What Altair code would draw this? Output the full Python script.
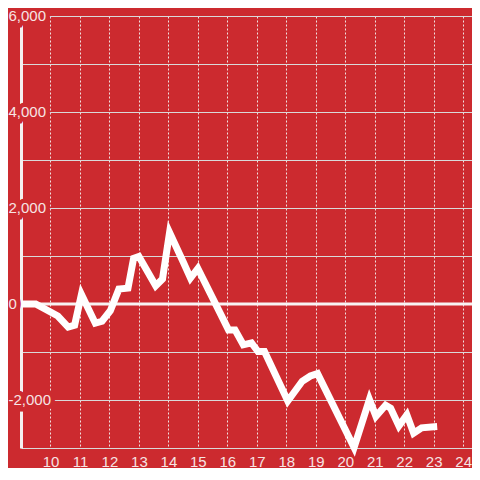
import altair as alt
import pandas as pd

# data
hours = [9.0, 9.5, 10.25, 10.6, 10.82, 11.05, 11.52, 11.75, 12.03, 12.32, 12.63, 12.82,
         13.0, 13.57, 13.8, 14.04, 14.5, 14.75, 15.0, 16.04, 16.26, 16.54, 16.82, 17.04,
         17.26, 18.05, 18.54, 18.82, 19.06, 20.3, 20.82, 21.04, 21.37, 21.54, 21.82,
         22.09, 22.32, 22.59, 23.0]
values = [0, 0, -250, -480, -440, 200, -400, -360, -140, 310, 330, 950,
          990, 380, 520, 1490, 880, 540, 740, -540, -540, -850, -810, -990,
          -990, -2020, -1610, -1500, -1450, -2990, -1990, -2340, -2110, -2170, -2540,
          -2310, -2690, -2580, -2560]

x_ticks = list(range(10, 25))
y_grid = list(range(-3000, 7000, 1000))
y_label_values = [6000, 4000, 2000, 0, -2000]
y_label_texts = ["6,000", "4,000", "2,000", "0", "-2,000"]

BG = "#cc2a2f"
LABEL = "#f6e4e4"
FONT = "Liberation Sans"

df = pd.DataFrame({"x": hours, "y": values})
lab = pd.DataFrame({"v": y_label_values, "t": y_label_texts})
zero = pd.DataFrame({"z": [0]})

xscale = alt.Scale(domain=[9, 24.3], nice=False, zero=False)
yscale = alt.Scale(domain=[-3000, 6000], nice=False)

line = alt.Chart(df).mark_line(
    color="#ffffff", strokeWidth=7, strokeCap="square", strokeJoin="miter"
).encode(
    x=alt.X("x:Q", scale=xscale, title=None,
            axis=alt.Axis(values=x_ticks, format="d", grid=True, gridColor="#f0e0e0",
                          gridDash=[2, 2], gridWidth=1, gridOpacity=1, domain=False,
                          ticks=False, labelPadding=6, labelColor=LABEL, labelFont=FONT,
                          labelFontSize=15)),
    y=alt.Y("y:Q", scale=yscale, title=None,
            axis=alt.Axis(values=y_grid, grid=True, gridColor="#d9d9d9", gridWidth=1,
                          gridOpacity=1, labels=False, ticks=False, domain=True,
                          domainColor="#f5f0f0", domainWidth=3)),
)

zero_rule = alt.Chart(zero).mark_rule(color="#f8f2f2", strokeWidth=3).encode(
    y=alt.Y("z:Q", scale=yscale)
)

halo = alt.Chart(lab).mark_text(
    align="left", baseline="middle", font=FONT, fontSize=15, color=BG,
    stroke=BG, strokeWidth=9
).encode(
    x=alt.value(-12.5),
    y=alt.Y("v:Q", scale=yscale),
    text="t:N",
)

labels = alt.Chart(lab).mark_text(
    align="left", baseline="middle", font=FONT, fontSize=15, color=LABEL
).encode(
    x=alt.value(-12.5),
    y=alt.Y("v:Q", scale=yscale),
    text="t:N",
)

chart = alt.layer(zero_rule, line, halo, labels).properties(
    width=451, height=432,
    autosize=alt.AutoSizeParams(type="none"),
    padding={"left": 13, "top": 8, "right": 0, "bottom": 20},
    background=BG,
).configure_view(stroke=None)

chart.save("out.html", embed_options={"renderer": "svg", "actions": False})
